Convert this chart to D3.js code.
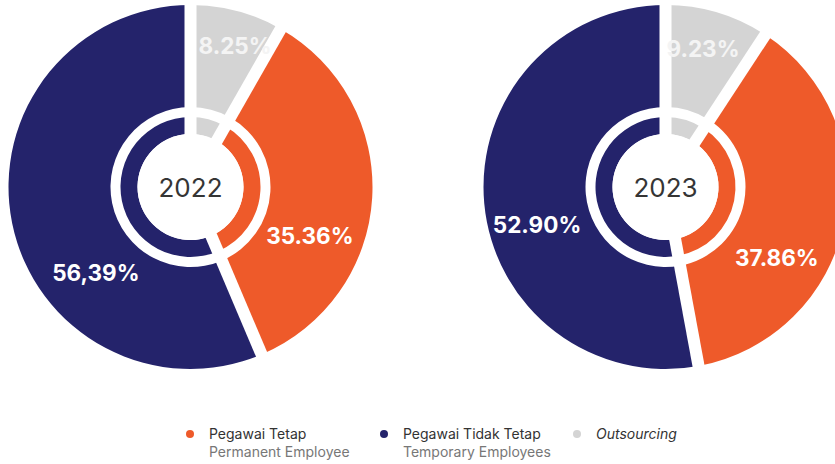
<!DOCTYPE html>
<html>
<head>
<meta charset="utf-8">
<script src="https://cdn.jsdelivr.net/npm/d3@7"></script>
<style>
  html, body { margin: 0; padding: 0; background: #ffffff; }
  svg { display: block; font-family: Inter, "Noto Sans", sans-serif; }
</style>
</head>
<body>
<svg id="chart" width="835" height="464"></svg>
<script>
// Employee composition by status
const years = ["2022", "2023"];
const categories = ["Outsourcing", "Pegawai Tetap", "Pegawai Tidak Tetap"];
const values2022 = [8.25, 35.36, 56.39];
const values2023 = [9.23, 37.86, 52.90];
const labels2022 = ["8.25%", "35.36%", "56,39%"];
const labels2023 = ["9.23%", "37.86%", "52.90%"];
const legendTitles = ["Pegawai Tetap", "Pegawai Tidak Tetap", "Outsourcing"];
const legendSubtitles = ["Permanent Employee", "Temporary Employees", ""];
const legendKeys = ["Pegawai Tetap", "Pegawai Tidak Tetap", "Outsourcing"];

// Layout and styling
const colors = d3.scaleOrdinal()
  .domain(categories)
  .range(["#d4d4d4", "#ee5a2a", "#24236b"]);

const centers = [{ x: 190.5, y: 187 }, { x: 665.5, y: 187 }];
const outerR = 182, outerInnerR = 80;
const ringOuterR = 70, ringInnerR = 53;
const gapWidth = 12;
// label anchors: [angle in degrees clockwise from top, radius]
const labelAnchors = [
  [[17.5, 148], [112.3, 129], [227.7, 128]],
  [[15.2, 143], [122.5, 132], [253.5, 134]]
];

const svg = d3.select("#chart");
const pie = d3.pie().sort(null).value(d => d.value);
const outerArc = d3.arc().innerRadius(outerInnerR).outerRadius(outerR);
const ringArc = d3.arc().innerRadius(ringInnerR).outerRadius(ringOuterR);

const datasets = [
  { year: years[0], values: values2022, labels: labels2022 },
  { year: years[1], values: values2023, labels: labels2023 }
];

datasets.forEach((ds, i) => {
  const rows = categories.map((c, k) => ({ cat: c, value: ds.values[k], label: ds.labels[k] }));
  const arcs = pie(rows);
  const g = svg.append("g").attr("transform", `translate(${centers[i].x},${centers[i].y})`);

  g.selectAll("path.outer").data(arcs).join("path")
    .attr("class", "outer")
    .attr("d", outerArc)
    .attr("fill", d => colors(d.data.cat));

  g.selectAll("path.ring").data(arcs).join("path")
    .attr("class", "ring")
    .attr("d", ringArc)
    .attr("fill", d => colors(d.data.cat));

  // white separators between slices, constant width across both rings
  g.selectAll("line.sep").data(arcs).join("line")
    .attr("class", "sep")
    .attr("x1", 0).attr("y1", 0)
    .attr("x2", d => Math.sin(d.startAngle) * (outerR + 4))
    .attr("y2", d => -Math.cos(d.startAngle) * (outerR + 4))
    .attr("stroke", "#ffffff")
    .attr("stroke-width", gapWidth);

  // center hole and year
  g.append("circle").attr("r", ringInnerR).attr("fill", "#ffffff");
  g.append("text")
    .attr("text-anchor", "middle")
    .attr("y", 10)
    .attr("font-size", 26)
    .attr("font-weight", 400)
    .attr("fill", "#353535")
    .text(ds.year);

  // percentage labels
  g.selectAll("text.pct").data(arcs).join("text")
    .attr("class", "pct")
    .attr("text-anchor", "middle")
    .attr("x", (d, k) => Math.sin(labelAnchors[i][k][0] * Math.PI / 180) * labelAnchors[i][k][1])
    .attr("y", (d, k) => -Math.cos(labelAnchors[i][k][0] * Math.PI / 180) * labelAnchors[i][k][1] + 8)
    .attr("font-size", 22.5)
    .attr("font-weight", 700)
    .attr("fill", (d, k) => k === 0 ? "#f4f4f4" : "#ffffff")
    .text(d => d.data.label);
});

// legend
const legendX = [190, 384, 577];
const legend = svg.append("g");
legendKeys.forEach((key, k) => {
  const item = legend.append("g").attr("transform", `translate(${legendX[k]},434)`);
  item.append("circle").attr("r", 4).attr("fill", colors(key));
  item.append("text")
    .attr("x", 19).attr("y", 5)
    .attr("font-size", 14)
    .attr("font-style", key === "Outsourcing" ? "italic" : "normal")
    .attr("fill", "#333333")
    .text(legendTitles[k]);
  if (legendSubtitles[k]) {
    item.append("text")
      .attr("x", 19).attr("y", 23)
      .attr("font-size", 14)
      .attr("fill", "#777777")
      .text(legendSubtitles[k]);
  }
});
</script>
</body>
</html>
